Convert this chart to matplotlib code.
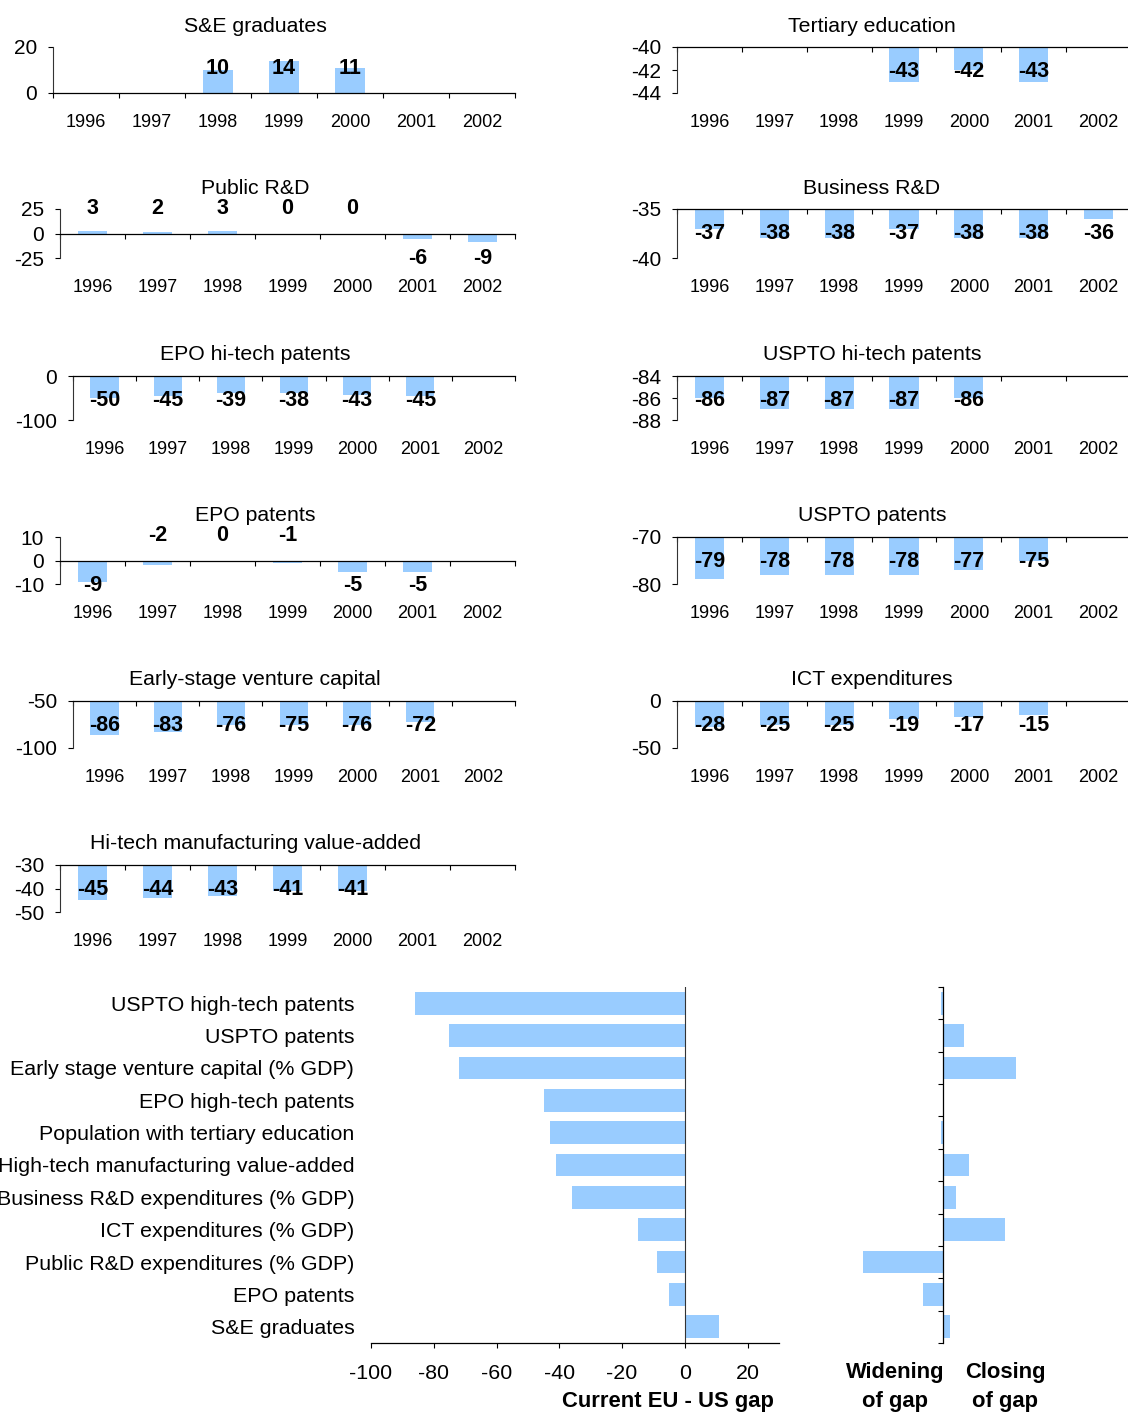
import matplotlib
matplotlib.use("Agg")
from matplotlib import pyplot as plt
import numpy as np

plt.rcParams['font.family'] = ['Liberation Sans', 'DejaVu Sans']
plt.rcParams['axes.unicode_minus'] = False

W, H = 1128, 1414
BLUE = '#99ccff'

years = ['1996', '1997', '1998', '1999', '2000', '2001', '2002']

# EU - US gap by indicator and year (None = no data)
se_graduates = [None, None, 10, 14, 11, None, None]
tertiary_edu = [None, None, None, -43, -42, -43, None]
public_rd = [3, 2, 3, 0, 0, -6, -9]
business_rd = [-37, -38, -38, -37, -38, -38, -36]
epo_hitech = [-50, -45, -39, -38, -43, -45, None]
uspto_hitech = [-86, -87, -87, -87, -86, None, None]
epo_patents = [-9, -2, 0, -1, -5, -5, None]
uspto_patents = [-79, -78, -78, -78, -77, -75, None]
early_vc = [-86, -83, -76, -75, -76, -72, None]
ict_exp = [-28, -25, -25, -19, -17, -15, None]
hitech_manuf = [-45, -44, -43, -41, -41, None, None]

# summary charts
gap_labels = ['USPTO high-tech patents', 'USPTO patents',
              'Early stage venture capital (% GDP)', 'EPO high-tech patents',
              'Population with tertiary education',
              'High-tech manufacturing value-added',
              'Business R&D expenditures (% GDP)', 'ICT expenditures (% GDP)',
              'Public R&D expenditures (% GDP)', 'EPO patents', 'S&E graduates']
current_gap = [-86, -75, -72, -45, -43, -41, -36, -15, -9, -5, 11]
gap_change = [-0.4, 4.0, 13.9, 0.0, -0.4, 4.9, 2.5, 11.8, -15.2, -3.8, 1.3]

fig = plt.figure(figsize=(W / 100, H / 100), dpi=100)


def add_box(x0, x1, y0, y1):
    # pixel box (top-left origin) -> figure axes
    return fig.add_axes([x0 / W, 1 - y1 / H, (x1 - x0) / W, (y1 - y0) / H])


def small_panel(box, title, title_x, values, ylim, yticks, base):
    ax = add_box(*box)
    idx = [i for i, v in enumerate(values) if v is not None]
    vals = np.array([values[i] for i in idx], float)
    ax.bar(idx, vals - base, bottom=base, width=0.45, color=BLUE, zorder=1)
    ax.set_xlim(-0.5, len(years) - 0.5)
    ax.set_ylim(*ylim)
    ax.set_yticks(yticks)
    ax.tick_params(axis='y', labelsize=15, length=3.6, width=0.8, pad=8)
    ax.set_xticks(np.arange(-0.5, len(years)))
    ax.set_xticklabels([])
    ax.tick_params(axis='x', direction='out', length=3.6, width=0.8)
    for s in ['top', 'right']:
        ax.spines[s].set_visible(False)
    ax.spines['bottom'].set_position(('data', base))
    ax.spines['bottom'].set_linewidth(0.9)
    ax.spines['left'].set_linewidth(0.8)
    ax.spines['left'].set_color('#333333')
    ax.patch.set_alpha(0)

    for i, yr in enumerate(years):
        ax.annotate(yr, xy=(i, 0), xycoords=('data', 'axes fraction'),
                    xytext=(0, -21.2), textcoords='offset points',
                    ha='center', va='center', fontsize=13)
    for i, v in zip(idx, vals):
        down = base == ylim[1] or v - base <= -3
        ax.annotate(f'{v:.0f}', xy=(i, base), xytext=(0, -17.8 if down else 17.8),
                    textcoords='offset points', ha='center', va='center',
                    fontsize=15.5, fontweight='bold', annotation_clip=False, zorder=3)
    fig.text(title_x / W, 1 - (box[2] - 21) / H, title, ha='center',
             va='center', fontsize=15.3)
    return ax


rows = [(47, 93), (209, 258), (376, 420), (537, 584), (701, 748), (865, 912)]
left_x0 = [53, 60, 73, 60, 73, 60]

left_panels = [
    ('S&E graduates', se_graduates, (0, 20), [0, 20], 0),
    ('Public R&D', public_rd, (-25, 25), [-25, 0, 25], 0),
    ('EPO hi-tech patents', epo_hitech, (-100, 0), [-100, 0], 0),
    ('EPO patents', epo_patents, (-10, 10), [-10, 0, 10], 0),
    ('Early-stage venture capital', early_vc, (-100, -50), [-100, -50], -50),
    ('Hi-tech manufacturing value-added', hitech_manuf, (-50, -30), [-50, -40, -30], -30),
]
right_panels = [
    ('Tertiary education', tertiary_edu, (-44, -40), [-44, -42, -40], -40),
    ('Business R&D', business_rd, (-40, -35), [-40, -35], -35),
    ('USPTO hi-tech patents', uspto_hitech, (-88, -84), [-88, -86, -84], -84),
    ('USPTO patents', uspto_patents, (-80, -70), [-80, -70], -70),
    ('ICT expenditures', ict_exp, (-50, 0), [-50, 0], 0),
]

for (title, vals, ylim, yt, base), (y0, y1), x0 in zip(left_panels, rows, left_x0):
    small_panel((x0, 515, y0, y1), title, 255, vals, ylim, yt, base)

for (title, vals, ylim, yt, base), (y0, y1) in zip(right_panels, rows):
    small_panel((677, 1131, y0, y1), title, 872, vals, ylim, yt, base)

# current gap chart
pos = np.arange(len(gap_labels))
ax1 = add_box(371, 779, 987, 1343)
ax1.barh(pos, current_gap, height=0.7, color=BLUE, zorder=1)
ax1.axvline(0, color='#333333', lw=0.8, zorder=2)
ax1.set_xlim(-100, 30)
ax1.set_ylim(len(gap_labels) - 0.5, -0.5)
ax1.set_yticks(pos)
ax1.set_yticklabels(gap_labels, fontsize=15.4)
ax1.tick_params(axis='y', length=0, pad=12)
ax1.set_xticks(np.arange(-100, 21, 20))
ax1.tick_params(axis='x', labelsize=15.4, length=3.6, width=0.8, pad=11.5)
for s in ['top', 'right', 'left']:
    ax1.spines[s].set_visible(False)
ax1.spines['bottom'].set_linewidth(0.9)
ax1.patch.set_alpha(0)

# change in gap chart
ax2 = add_box(838, 1048, 987, 1343)
ax2.barh(pos, gap_change, height=0.7, color=BLUE, zorder=1)
ax2.set_xlim(-20, 20)
ax2.set_ylim(len(gap_labels) - 0.5, -0.5)
ax2.set_yticks(np.arange(-0.5, len(gap_labels)))
ax2.set_yticklabels([])
ax2.set_xticks([])
ax2.tick_params(axis='y', length=3.6, width=0.8)
for s in ['top', 'right', 'bottom']:
    ax2.spines[s].set_visible(False)
ax2.spines['left'].set_position(('data', 0))
ax2.spines['left'].set_linewidth(0.9)
ax2.patch.set_alpha(0)

bold = dict(fontsize=15.8, fontweight='bold', va='center')
fig.text(774 / W, 1 - 1402 / H, 'Current EU - US gap', ha='right', **bold)
fig.text(895 / W, 1 - 1387 / H, 'Widening\nof gap', ha='center', linespacing=1.55, **bold)
fig.text(1005 / W, 1 - 1387 / H, 'Closing\nof gap', ha='center', linespacing=1.55, **bold)

fig.savefig('out.png', dpi=100)
